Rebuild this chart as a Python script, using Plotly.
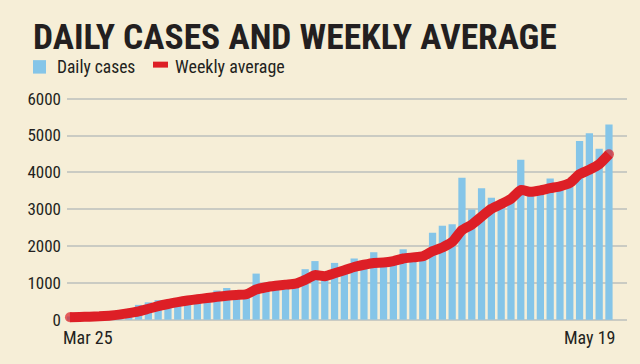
import pandas as pd
import plotly.graph_objects as go

# ---- data ----
days = [d.strftime("%b %d").replace(" 0", " ") for d in pd.date_range("2020-03-25", "2020-05-19")]
daily_cases = [86, 88, 140, 190, 110, 230, 150, 400, 470, 530,
               500, 560, 600, 640, 690, 790, 860, 720, 700, 1250,
               880, 940, 1000, 990, 1370, 1590, 1200, 1540, 1400, 1660,
               1450, 1830, 1500, 1560, 1910, 1650, 1700, 2360, 2550, 2590,
               3850, 2990, 3570, 3310, 3150, 3200, 4340, 3380, 3430, 3830,
               3550, 3600, 4850, 5060, 4640, 5300]
weekly_average = [65, 72, 80, 90, 108, 135, 175, 225, 295, 365,
                  425, 475, 520, 555, 585, 620, 650, 670, 690, 820,
                  880, 920, 950, 975, 1080, 1210, 1180, 1260, 1340, 1430,
                  1490, 1540, 1550, 1590, 1660, 1690, 1720, 1860, 1960, 2110,
                  2430, 2580, 2800, 3010, 3140, 3280, 3520, 3470, 3510, 3570,
                  3620, 3710, 3950, 4070, 4220, 4490]
y_ticks = [0, 1000, 2000, 3000, 4000, 5000, 6000]
x_labels = ["Mar 25", "May 19"]
title_text = "DAILY CASES AND WEEKLY AVERAGE"
legend_labels = ["Daily cases", "Weekly average"]

# ---- style ----
BG = "#F6EED7"
BLUE = "#85C5E8"
RED = "#DD1F26"
INK = "#231F20"
GRID = "#CACBC3"
FONT = "Liberation Sans Narrow, Roboto Condensed, DejaVu Sans Condensed, Arial Narrow, sans-serif"

W, H = 640, 364
L, R, T, B = 67, 13, 94.5, 36.5
plot_h = H - T - B
plot_w = W - L - R


def px_x(px):
    return (px - L) / plot_w


def px_y(py):
    return (H - B - py) / plot_h


fig = go.Figure()
fig.add_trace(go.Bar(x=days, y=daily_cases, marker=dict(color=BLUE, line_width=0),
                     width=0.74, name=legend_labels[0], showlegend=False))
end_sizes = [10] + [0] * (len(weekly_average) - 2) + [10]
fig.add_trace(go.Scatter(x=days, y=weekly_average, mode="lines+markers",
                         line=dict(color=RED, width=10, shape="spline", smoothing=0.5),
                         marker=dict(color=RED, size=end_sizes, line_width=0),
                         name=legend_labels[1], showlegend=False, cliponaxis=False))

annotations = [
    dict(text=title_text, xref="paper", yref="paper", x=px_x(31), y=px_y(36),
         xanchor="left", yanchor="middle", showarrow=False,
         font=dict(family=FONT, size=35.5, color=INK, weight="bold")),
    dict(text=legend_labels[0], xref="paper", yref="paper", x=px_x(55), y=px_y(66),
         xanchor="left", yanchor="middle", showarrow=False,
         font=dict(family=FONT, size=17.5, color=INK)),
    dict(text=legend_labels[1], xref="paper", yref="paper", x=px_x(172.5), y=px_y(66),
         xanchor="left", yanchor="middle", showarrow=False,
         font=dict(family=FONT, size=18, color=INK)),
    dict(text=x_labels[0], xref="x", yref="paper", x=days[0], y=px_y(338.5),
         xanchor="left", yanchor="middle", xshift=-9, showarrow=False,
         font=dict(family=FONT, size=18, color=INK)),
    dict(text=x_labels[1], xref="x", yref="paper", x=days[-1], y=px_y(338.5),
         xanchor="right", yanchor="middle", xshift=9, showarrow=False,
         font=dict(family=FONT, size=18, color=INK)),
]
shapes = [
    dict(type="rect", xref="paper", yref="paper", x0=px_x(33), x1=px_x(46),
         y0=px_y(73), y1=px_y(59.5), fillcolor=BLUE, line_width=0),
    dict(type="rect", xref="paper", yref="paper", x0=px_x(153), x1=px_x(168),
         y0=px_y(67), y1=px_y(61), fillcolor=RED, line_width=0),
]

fig.update_layout(
    width=W, height=H,
    margin=dict(l=L, r=R, t=T, b=B, pad=0),
    paper_bgcolor=BG, plot_bgcolor=BG,
    bargap=0.26,
    annotations=annotations, shapes=shapes,
    showlegend=False,
    xaxis=dict(type="category", range=[-0.3, len(days) - 1 + 1.84],
               showticklabels=False, showgrid=False, zeroline=False, showline=False, ticks=""),
    yaxis=dict(range=[-200, 6100], tickvals=y_ticks, ticktext=[str(v) for v in y_ticks],
               showgrid=True, gridcolor=GRID, gridwidth=1.5, zeroline=False, showline=False,
               ticks="", ticklabelstandoff=5,
               tickfont=dict(family=FONT, size=17, color=INK)),
)

fig.write_html("out.html", config={"displayModeBar": False},
               post_script="document.body.style.margin='0';document.body.style.background='" + BG + "';")
